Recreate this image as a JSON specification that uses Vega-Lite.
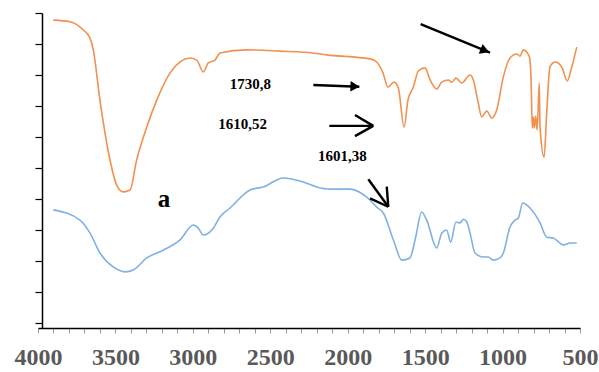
{
  "$schema": "https://vega.github.io/schema/vega-lite/v6.json",
  "width": 542,
  "height": 315,
  "autosize": {"type": "none"},
  "padding": {"left": 38, "top": 13, "right": 19, "bottom": 44},
  "background": "white",
  "config": {"view": {"stroke": null}, "axis": {"grid": false}},
  "datasets": {
    "spectra": [
      {"wn": 3901, "t": 97.7, "s": "upper"}, {"wn": 3793, "t": 97.2, "s": "upper"}, {"wn": 3707, "t": 94.5, "s": "upper"},
      {"wn": 3664, "t": 91.9, "s": "upper"}, {"wn": 3643, "t": 88.1, "s": "upper"}, {"wn": 3600, "t": 71.9, "s": "upper"},
      {"wn": 3535, "t": 52.6, "s": "upper"}, {"wn": 3492, "t": 44.5, "s": "upper"}, {"wn": 3449, "t": 42.3, "s": "upper"},
      {"wn": 3406, "t": 42.9, "s": "upper"}, {"wn": 3363, "t": 52.6, "s": "upper"}, {"wn": 3298, "t": 63.2, "s": "upper"},
      {"wn": 3233, "t": 71.9, "s": "upper"}, {"wn": 3148, "t": 80.6, "s": "upper"}, {"wn": 3018, "t": 85.5, "s": "upper"},
      {"wn": 2975, "t": 84.8, "s": "upper"}, {"wn": 2932, "t": 81.0, "s": "upper"}, {"wn": 2900, "t": 83.9, "s": "upper"},
      {"wn": 2857, "t": 84.8, "s": "upper"}, {"wn": 2825, "t": 87.1, "s": "upper"}, {"wn": 2652, "t": 88.1, "s": "upper"},
      {"wn": 2437, "t": 87.7, "s": "upper"}, {"wn": 2224, "t": 87.1, "s": "upper"}, {"wn": 2136, "t": 86.5, "s": "upper"},
      {"wn": 1856, "t": 85.2, "s": "upper"}, {"wn": 1813, "t": 84.2, "s": "upper"}, {"wn": 1772, "t": 80.6, "s": "upper"},
      {"wn": 1740, "t": 76.1, "s": "upper"}, {"wn": 1701, "t": 77.7, "s": "upper"}, {"wn": 1673, "t": 75.8, "s": "upper"},
      {"wn": 1636, "t": 63.2, "s": "upper"}, {"wn": 1611, "t": 71.9, "s": "upper"}, {"wn": 1576, "t": 76.1, "s": "upper"},
      {"wn": 1544, "t": 81.3, "s": "upper"}, {"wn": 1501, "t": 82.3, "s": "upper"}, {"wn": 1468, "t": 78.4, "s": "upper"},
      {"wn": 1425, "t": 75.5, "s": "upper"}, {"wn": 1393, "t": 77.7, "s": "upper"}, {"wn": 1350, "t": 78.4, "s": "upper"},
      {"wn": 1328, "t": 77.7, "s": "upper"}, {"wn": 1301, "t": 79.0, "s": "upper"}, {"wn": 1264, "t": 77.4, "s": "upper"},
      {"wn": 1210, "t": 80.0, "s": "upper"}, {"wn": 1189, "t": 78.4, "s": "upper"}, {"wn": 1157, "t": 71.0, "s": "upper"},
      {"wn": 1135, "t": 66.5, "s": "upper"}, {"wn": 1102, "t": 68.4, "s": "upper"}, {"wn": 1070, "t": 66.1, "s": "upper"},
      {"wn": 1038, "t": 68.7, "s": "upper"}, {"wn": 995, "t": 79.4, "s": "upper"}, {"wn": 952, "t": 85.5, "s": "upper"},
      {"wn": 909, "t": 86.8, "s": "upper"}, {"wn": 887, "t": 86.1, "s": "upper"}, {"wn": 866, "t": 88.1, "s": "upper"},
      {"wn": 827, "t": 85.9, "s": "upper"}, {"wn": 816, "t": 78.4, "s": "upper"}, {"wn": 808, "t": 62.9, "s": "upper"},
      {"wn": 801, "t": 66.5, "s": "upper"}, {"wn": 795, "t": 62.9, "s": "upper"}, {"wn": 786, "t": 66.8, "s": "upper"},
      {"wn": 777, "t": 62.3, "s": "upper"}, {"wn": 763, "t": 77.4, "s": "upper"}, {"wn": 758, "t": 63.2, "s": "upper"},
      {"wn": 732, "t": 53.5, "s": "upper"}, {"wn": 715, "t": 67.7, "s": "upper"}, {"wn": 694, "t": 82.6, "s": "upper"},
      {"wn": 661, "t": 84.2, "s": "upper"}, {"wn": 618, "t": 82.6, "s": "upper"}, {"wn": 582, "t": 78.1, "s": "upper"},
      {"wn": 553, "t": 82.6, "s": "upper"}, {"wn": 521, "t": 89.0, "s": "upper"},
      {"wn": 3901, "t": 36.5, "s": "lower"}, {"wn": 3729, "t": 33.2, "s": "lower"}, {"wn": 3664, "t": 29.0, "s": "lower"},
      {"wn": 3600, "t": 22.6, "s": "lower"}, {"wn": 3514, "t": 18.1, "s": "lower"}, {"wn": 3438, "t": 16.5, "s": "lower"},
      {"wn": 3385, "t": 17.1, "s": "lower"}, {"wn": 3298, "t": 21.0, "s": "lower"}, {"wn": 3191, "t": 23.5, "s": "lower"},
      {"wn": 3083, "t": 26.8, "s": "lower"}, {"wn": 2997, "t": 31.6, "s": "lower"}, {"wn": 2965, "t": 30.6, "s": "lower"},
      {"wn": 2932, "t": 28.4, "s": "lower"}, {"wn": 2868, "t": 30.6, "s": "lower"}, {"wn": 2825, "t": 34.2, "s": "lower"},
      {"wn": 2760, "t": 37.1, "s": "lower"}, {"wn": 2631, "t": 42.9, "s": "lower"}, {"wn": 2545, "t": 43.9, "s": "lower"},
      {"wn": 2416, "t": 46.8, "s": "lower"}, {"wn": 2287, "t": 45.5, "s": "lower"}, {"wn": 2200, "t": 43.9, "s": "lower"},
      {"wn": 2114, "t": 43.2, "s": "lower"}, {"wn": 1985, "t": 43.2, "s": "lower"}, {"wn": 1877, "t": 40.6, "s": "lower"},
      {"wn": 1813, "t": 37.4, "s": "lower"}, {"wn": 1770, "t": 35.5, "s": "lower"}, {"wn": 1705, "t": 26.8, "s": "lower"},
      {"wn": 1651, "t": 20.3, "s": "lower"}, {"wn": 1598, "t": 21.0, "s": "lower"}, {"wn": 1565, "t": 26.8, "s": "lower"},
      {"wn": 1522, "t": 35.8, "s": "lower"}, {"wn": 1490, "t": 33.2, "s": "lower"}, {"wn": 1425, "t": 24.2, "s": "lower"},
      {"wn": 1393, "t": 29.0, "s": "lower"}, {"wn": 1361, "t": 30.0, "s": "lower"}, {"wn": 1335, "t": 26.1, "s": "lower"},
      {"wn": 1301, "t": 32.6, "s": "lower"}, {"wn": 1275, "t": 32.3, "s": "lower"}, {"wn": 1253, "t": 33.5, "s": "lower"},
      {"wn": 1231, "t": 32.6, "s": "lower"}, {"wn": 1210, "t": 29.0, "s": "lower"}, {"wn": 1178, "t": 22.6, "s": "lower"},
      {"wn": 1124, "t": 21.3, "s": "lower"}, {"wn": 1092, "t": 21.3, "s": "lower"}, {"wn": 1060, "t": 20.3, "s": "lower"},
      {"wn": 1016, "t": 21.0, "s": "lower"}, {"wn": 995, "t": 22.6, "s": "lower"}, {"wn": 952, "t": 31.0, "s": "lower"},
      {"wn": 920, "t": 33.2, "s": "lower"}, {"wn": 898, "t": 33.9, "s": "lower"}, {"wn": 870, "t": 38.7, "s": "lower"},
      {"wn": 823, "t": 37.1, "s": "lower"}, {"wn": 758, "t": 32.3, "s": "lower"}, {"wn": 715, "t": 27.7, "s": "lower"},
      {"wn": 672, "t": 27.4, "s": "lower"}, {"wn": 608, "t": 25.2, "s": "lower"}, {"wn": 564, "t": 25.8, "s": "lower"},
      {"wn": 521, "t": 25.8, "s": "lower"}
    ],
    "arrows": [
      {"wn": 1529, "t": 96.4, "wn2": 1081, "t2": 87.2},
      {"wn": 2222, "t": 76.8, "wn2": 1925, "t2": 76.2},
      {"wn": 2119, "t": 63.6, "wn2": 1835, "t2": 63.6},
      {"wn": 1953, "t": 67.1, "wn2": 1835, "t2": 63.6},
      {"wn": 1953, "t": 60.3, "wn2": 1835, "t2": 63.6},
      {"wn": 1867, "t": 46.4, "wn2": 1738, "t2": 37.5},
      {"wn": 1856, "t": 40.2, "wn2": 1738, "t2": 37.5},
      {"wn": 1748, "t": 44.0, "wn2": 1738, "t2": 37.5}
    ],
    "heads": [
      {"id": "top", "wn": 1114, "t": 87.9},
      {"id": "mid", "wn": 1953, "t": 76.3}
    ],
    "numbers": [
      {"wn": 2628, "t": 75.5, "label": "1730,8"},
      {"wn": 2679, "t": 62.6, "label": "1610,52"},
      {"wn": 2035, "t": 52.3, "label": "1601,38"}
    ],
    "panel": [
      {"wn": 3186, "t": 37.4, "label": "a"}
    ]
  },
  "encoding": {
    "x": {
      "field": "wn", "type": "quantitative",
      "scale": {"domain": [4000, 500], "nice": false, "zero": false},
      "axis": {
        "title": null,
        "values": [4000, 3900, 3800, 3700, 3600, 3500, 3400, 3300, 3200, 3100, 3000, 2900, 2800, 2700, 2600, 2500, 2400, 2300, 2200, 2100, 2000, 1900, 1800, 1700, 1600, 1500, 1400, 1300, 1200, 1100, 1000, 900, 800, 700, 600, 500],
        "format": "d",
        "labelExpr": "datum.value % 500 === 0 ? datum.label : ''",
        "labelFont": "Liberation Serif", "labelFontWeight": "bold", "labelFontSize": 24, "labelColor": "#595959",
        "labelPadding": 12, "labelOverlap": false, "labelFlush": false,
        "tickSize": 5, "tickColor": "#9a9a9a", "tickWidth": 1,
        "domainColor": "#000000", "domainWidth": 1.5, "grid": false
      }
    },
    "y": {
      "field": "t", "type": "quantitative",
      "scale": {"domain": [-1.6, 100], "nice": false, "zero": false},
      "axis": {
        "title": null, "labels": false,
        "values": [0, 10, 20, 30, 40, 50, 60, 70, 80, 90, 100],
        "tickSize": 7, "tickColor": "#000000", "tickWidth": 1.2,
        "domainColor": "#000000", "domainWidth": 1.5, "offset": -4, "grid": false
      }
    }
  },
  "layer": [
    {
      "data": {"name": "spectra"},
      "mark": {"type": "line", "strokeWidth": 1.6, "interpolate": "monotone"},
      "encoding": {
        "color": {"field": "s", "type": "nominal", "scale": {"domain": ["upper", "lower"], "range": ["#F0914F", "#7FB1E2"]}, "legend": null},
        "order": {"field": "wn", "sort": "descending"}
      }
    },
    {
      "data": {"name": "arrows"},
      "mark": {"type": "rule", "color": "#000000", "strokeWidth": 2.4},
      "encoding": {
        "x2": {"field": "wn2"},
        "y2": {"field": "t2"}
      }
    },
    {
      "data": {"name": "heads"},
      "transform": [{"filter": "datum.id === 'top'"}],
      "mark": {"type": "point", "shape": "triangle-right", "filled": true, "color": "#000000", "opacity": 1, "size": 110, "angle": 22},
      "encoding": {}
    },
    {
      "data": {"name": "heads"},
      "transform": [{"filter": "datum.id === 'mid'"}],
      "mark": {"type": "point", "shape": "triangle-right", "filled": true, "color": "#000000", "opacity": 1, "size": 110, "angle": 2},
      "encoding": {}
    },
    {
      "data": {"name": "numbers"},
      "mark": {"type": "text", "font": "Liberation Serif", "fontWeight": "bold", "fontSize": 15, "color": "#000000", "align": "center", "baseline": "alphabetic"},
      "encoding": {"text": {"field": "label"}}
    },
    {
      "data": {"name": "panel"},
      "mark": {"type": "text", "font": "Liberation Serif", "fontWeight": "bold", "fontSize": 25, "color": "#000000", "align": "center", "baseline": "alphabetic"},
      "encoding": {"text": {"field": "label"}}
    }
  ]
}
